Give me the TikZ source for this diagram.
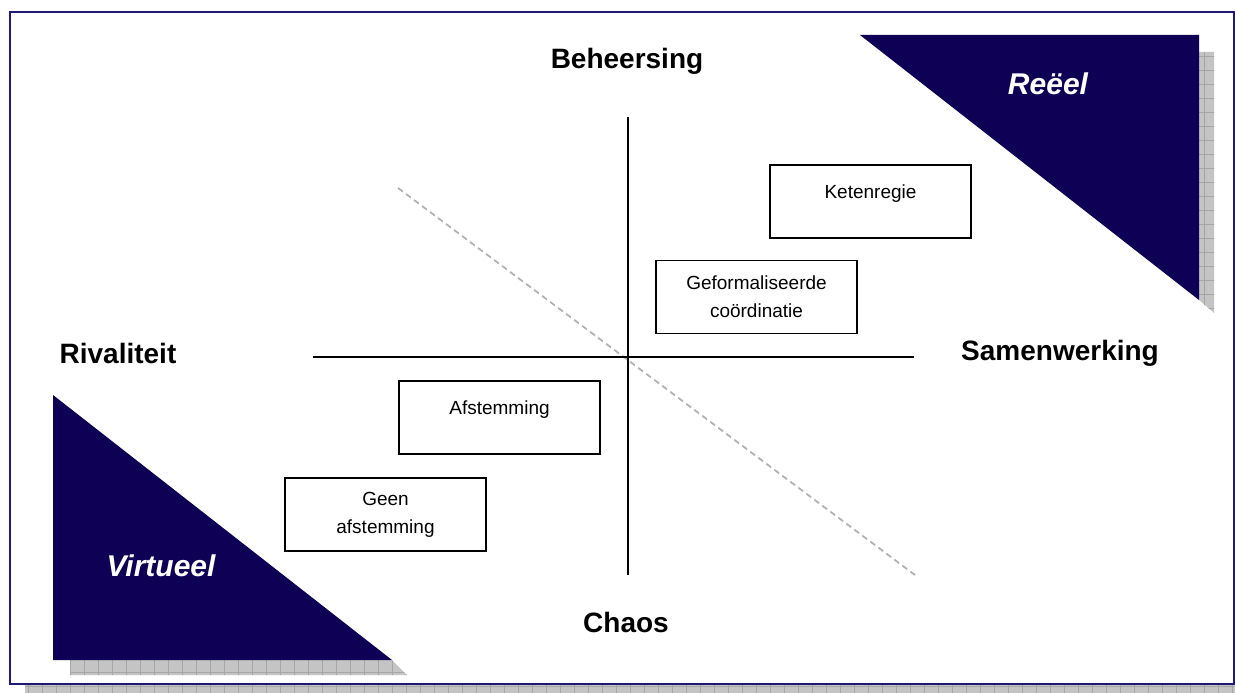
\documentclass[tikz,border=0pt]{standalone}
\usepackage{fontspec}
\setmainfont{Liberation Sans}
\definecolor{navyfill}{RGB}{14,0,84}
\definecolor{navyline}{RGB}{30,25,120}
\definecolor{shadowgray}{RGB}{196,196,196}
\tikzset{
  stagebox/.style={draw=black, line width=1.6pt, fill=white, inner sep=0pt,
    minimum width=201pt, minimum height=73pt, align=center,
    font=\fontsize{19}{28}\selectfont},
  axislabel/.style={font=\fontsize{28}{32}\selectfont\bfseries},
  cornerlabel/.style={text=white, font=\fontsize{30}{34}\selectfont\bfseries\itshape},
  axisline/.style={black, line width=1.5pt},
}
\newcommand{\gridshade}[1]{%
  \begin{scope}
    \fill[shadowgray] #1;
    \clip #1;
    \draw[gray!70, line width=0.5pt] (0,0) grid[step=14pt] (1240,700);
  \end{scope}}
\begin{document}
\begin{tikzpicture}[x=1pt,y=-1pt]
    \useasboundingbox (0,0) rectangle (1235,693);
    \fill[white] (0,0) rectangle (1235,693);
    % shadow of the frame
    \gridshade{(25,684) rectangle (1235,693)}
    \draw[navyline, line width=2.6pt, fill=white] (10,12) rectangle (1234,684);

    % corner triangles with their shadows
    \gridshade{(1199,52) -- (1214,52) -- (1214,313) -- (1199,300) -- cycle}
    \fill[navyfill] (860,35) -- (1199,35) -- (1199,300) -- cycle;
    \gridshade{(70,660) -- (392,660) -- (407,675) -- (70,675) -- cycle}
    \fill[navyfill] (53,395) -- (53,660) -- (392,660) -- cycle;
    \node[cornerlabel] (reeel) at (1048,84) {Reëel};
    \node[cornerlabel] (virtueel) at (161,566) {Virtueel};

    % axes
    \coordinate (diagtop) at (398,188);
    \coordinate (diagbot) at (915,575);
    \coordinate (vtop) at (628,117);
    \coordinate (vbot) at (628,575);
    \coordinate (hleft) at (313,357);
    \coordinate (hright) at (914,357);
    \draw[gray!60, dash pattern=on 6pt off 4pt, line width=1.8pt] (diagtop) -- (diagbot);
    \draw[axisline] (vtop) -- (vbot);
    \draw[axisline] (hleft) -- (hright);

    \node[axislabel] (beheersing) at (627,61) {Beheersing};
    \node[axislabel] (chaos) at (626,622) {Chaos};
    \node[axislabel] (rivaliteit) at (118,353) {Rivaliteit};
    \node[axislabel] (samenwerking) at (1060,353) {Samenwerking};

    % stages
    \node[stagebox] (ketenregie) at (870.5,201.5) {Ketenregie\\[-8pt]\mbox{}};
    \node[stagebox] (geformaliseerd) at (756.5,297) {Geformaliseerde\\coördinatie};
    \node[stagebox] (afstemming) at (499.5,417.5) {Afstemming\\[-8pt]\mbox{}};
    \node[stagebox] (geen) at (385.5,514.5) {Geen\\afstemming};
\end{tikzpicture}
\end{document}
